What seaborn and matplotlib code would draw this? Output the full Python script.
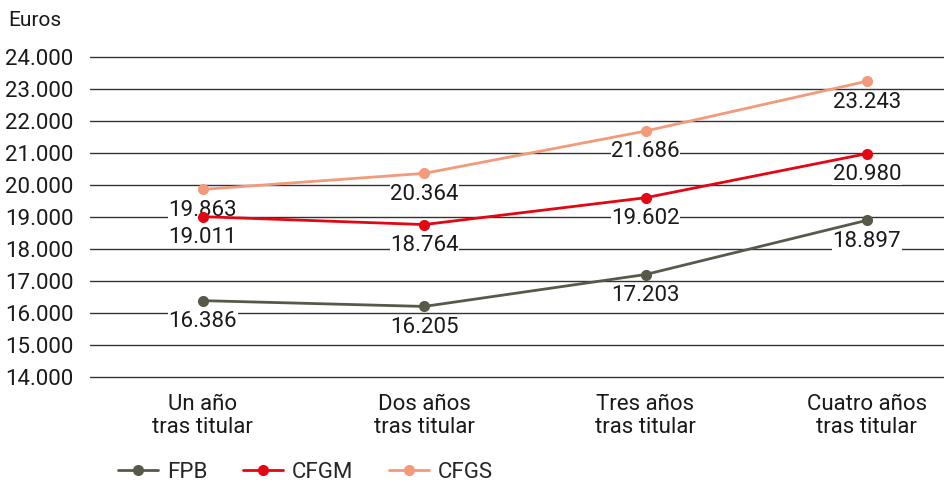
import matplotlib
matplotlib.use("Agg")
import matplotlib.pyplot as plt
import seaborn as sns
import pandas as pd

categorias = ["Un año\ntras titular", "Dos años\ntras titular", "Tres años\ntras titular", "Cuatro años\ntras titular"]
fpb = [16386, 16205, 17203, 18897]
cfgm = [19011, 18764, 19602, 20980]
cfgs = [19863, 20364, 21686, 23243]
series = ["FPB", "CFGM", "CFGS"]
colores = {"FPB": "#575a48", "CFGM": "#e30613", "CFGS": "#f29a7a"}
y_ticks = list(range(14000, 24001, 1000))

df = pd.DataFrame({
    "x": list(range(len(categorias))) * 3,
    "valor": fpb + cfgm + cfgs,
    "serie": ["FPB"] * 4 + ["CFGM"] * 4 + ["CFGS"] * 4,
})

def miles(v):
    return f"{v:,.0f}".replace(",", ".")

sns.set_style("white")
plt.rcParams["font.family"] = ["Roboto", "DejaVu Sans"]
fs = 16

fig = plt.figure(figsize=(9.45, 4.83), dpi=100)
ax = fig.add_axes([90 / 945, 1 - 377 / 483, 1 - 90 / 945, 320 / 483])

sns.lineplot(data=df, x="x", y="valor", hue="serie", hue_order=series, palette=colores,
             marker="o", markersize=8, markeredgewidth=0, linewidth=2, ax=ax, zorder=5)

for _, r in df.iterrows():
    ax.annotate(miles(r["valor"]), (r["x"], r["valor"]), xytext=(0, -15), textcoords="offset points",
                ha="center", va="center", fontsize=fs, color="#1a1a1a", zorder=4,
                bbox=dict(boxstyle="square,pad=0.02", fc="white", ec="none"))

ax.set_xlim(-0.51, 3.353)
ax.set_ylim(14000, 24000)
ax.set_yticks(y_ticks)
ax.set_yticklabels([miles(v) for v in y_ticks], fontsize=fs, color="#1a1a1a")
ax.set_xticks(range(len(categorias)))
ax.set_xticklabels(categorias, fontsize=fs, color="#1a1a1a", linespacing=1.15)
ax.tick_params(axis="x", length=0, pad=12)
ax.tick_params(axis="y", length=0, pad=12)
ax.grid(axis="y", color="#333333", linewidth=1)
for gl in ax.get_ygridlines():
    gl.set_clip_on(False)
ax.set_axisbelow(True)
for s in ax.spines.values():
    s.set_visible(False)
ax.set_xlabel("")
ax.set_ylabel("")

fig.text(8 / 945, 1 - 20 / 483, "Euros", fontsize=15, color="#1a1a1a", va="center", ha="left")

handles, labels = ax.get_legend_handles_labels()
ax.legend(handles, labels, loc="center left", bbox_to_anchor=(98 / 945, 1 - 472 / 483),
          bbox_transform=fig.transFigure, ncol=3, frameon=False, fontsize=fs,
          handlelength=1.8, columnspacing=1.6, handletextpad=0.4)

fig.savefig("out.png", dpi=100)
